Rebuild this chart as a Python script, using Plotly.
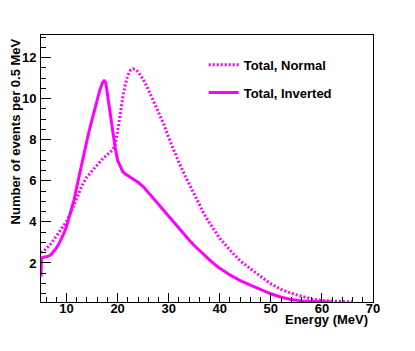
import plotly.graph_objects as go

# Total, Inverted (solid)
energy_inv = [5.0, 5.1, 5.5, 6.0, 6.5, 7.0, 7.5, 8.0, 8.5, 9.0, 9.5, 10.0, 10.5, 11.0, 11.5,
              12.0, 12.5, 13.0, 13.5, 14.0, 14.5, 15.0, 15.5, 16.0, 16.5, 17.0, 17.4, 17.7,
              18.0, 18.4, 18.9, 19.5, 20.0, 20.5, 21.0, 21.5, 22.0, 23.0, 24.0, 25.0, 26.0,
              27.0, 28.0, 29.0, 30.0, 31.0, 32.0, 33.0, 34.0, 35.0, 36.0, 37.0, 38.0, 39.0,
              40.0, 42.0, 44.0, 46.0, 48.0, 50.0, 52.0, 54.0, 56.0, 58.0, 60.0, 62.0]
events_inv = [1.33, 2.25, 2.28, 2.3, 2.33, 2.42, 2.55, 2.72, 2.93, 3.17, 3.45, 3.78, 4.2, 4.6, 5.1,
              5.7, 6.3, 6.9, 7.45, 7.97, 8.5, 9.0, 9.5, 9.95, 10.4, 10.75, 10.9, 10.75,
              10.25, 9.4, 8.6, 7.65, 7.0, 6.7, 6.45, 6.33, 6.25, 6.1, 5.93, 5.72, 5.45,
              5.15, 4.86, 4.57, 4.27, 3.97, 3.68, 3.4, 3.12, 2.85, 2.6, 2.37, 2.15, 1.93,
              1.74, 1.42, 1.14, 0.92, 0.7, 0.5, 0.33, 0.22, 0.15, 0.12, 0.11, 0.1]

# Total, Normal (dotted)
energy_norm = [5.0, 5.5, 6.0, 7.0, 8.0, 9.0, 10.0, 11.0, 12.0, 13.0, 14.0, 15.0, 16.0, 17.0,
               18.0, 19.0, 19.5, 20.0, 20.5, 21.0, 21.5, 22.0, 22.5, 23.0, 23.5, 24.0, 24.5,
               25.0, 26.0, 27.0, 28.0, 29.0, 30.0, 31.0, 32.0, 33.0, 34.0, 35.0, 36.0, 37.0,
               38.0, 39.0, 40.0, 42.0, 44.0, 46.0, 48.0, 50.0, 52.0, 54.0, 56.0, 58.0, 60.0,
               62.0, 64.0, 66.0]
events_norm = [2.5, 2.58, 2.68, 2.95, 3.3, 3.65, 4.02, 4.55, 5.2, 5.75, 6.2, 6.5, 6.78, 7.05,
               7.28, 7.5, 7.7, 8.4, 9.2, 10.05, 10.7, 11.15, 11.38, 11.45, 11.42, 11.3, 11.15,
               10.95, 10.45, 9.9, 9.35, 8.78, 8.1, 7.45, 6.9, 6.35, 5.85, 5.3, 4.8, 4.35,
               3.95, 3.55, 3.2, 2.63, 2.1, 1.72, 1.35, 0.98, 0.72, 0.52, 0.38, 0.25, 0.17,
               0.13, 0.12, 0.11]

x_title = "Energy (MeV)"
y_title = "Number of events per 0.5 MeV"
x_range = [5, 70]
y_range = [0.1, 13.1]

MAGENTA = "#ff00ff"
FONT = "Liberation Sans, Arial, Helvetica, sans-serif"

fig = go.Figure()
fig.add_trace(go.Scatter(x=energy_norm, y=events_norm, mode="lines", name="Total, Normal",
                         legendgroup="a",
                         line=dict(color=MAGENTA, width=3, dash="2px,2px")))
fig.add_trace(go.Scatter(x=energy_inv, y=events_inv, mode="lines", name="Total, Inverted",
                         legendgroup="b",
                         line=dict(color=MAGENTA, width=3)))

axis_common = dict(
    showline=True, linecolor="black", linewidth=1, mirror=True,
    ticks="inside", tickcolor="black", tickwidth=1,
    showgrid=False, zeroline=False,
    tickfont=dict(family=FONT, size=13, color="black", weight="bold"),
)

fig.update_xaxes(range=x_range, dtick=10, tick0=0, ticklen=9,
                 minor=dict(dtick=2, tick0=0, ticks="inside", ticklen=5, tickcolor="black", tickwidth=1),
                 ticklabelstandoff=-6, **axis_common)
fig.update_yaxes(range=y_range, dtick=2, tick0=0, ticklen=10,
                 minor=dict(dtick=0.5, tick0=0, ticks="inside", ticklen=5, tickcolor="black", tickwidth=1),
                 ticklabelstandoff=1, **axis_common)

fig.update_layout(
    width=415, height=351,
    margin=dict(l=41, r=42, t=35, b=49),
    plot_bgcolor="white", paper_bgcolor="white",
    font=dict(family=FONT, size=13, color="black", weight="bold"),
    showlegend=True,
    legend=dict(x=0.49, y=0.945, xanchor="left", yanchor="top",
                bgcolor="rgba(0,0,0,0)", borderwidth=0,
                traceorder="grouped", tracegroupgap=8,
                font=dict(family=FONT, size=13, color="black", weight="bold")),
    annotations=[
        dict(text=x_title, xref="paper", yref="paper", x=0.991, y=-0.067,
             xanchor="right", yanchor="middle", showarrow=False,
             font=dict(family=FONT, size=13, color="black", weight="bold")),
        dict(text=y_title, xref="paper", yref="paper", x=-0.078, y=0.995,
             xanchor="center", yanchor="top", textangle=-90, showarrow=False,
             font=dict(family=FONT, size=13, color="black", weight="bold")),
    ],
)

fig.write_html("out.html", config={"displayModeBar": False},
               post_script="document.body.style.margin='0';document.body.style.padding='0';")
